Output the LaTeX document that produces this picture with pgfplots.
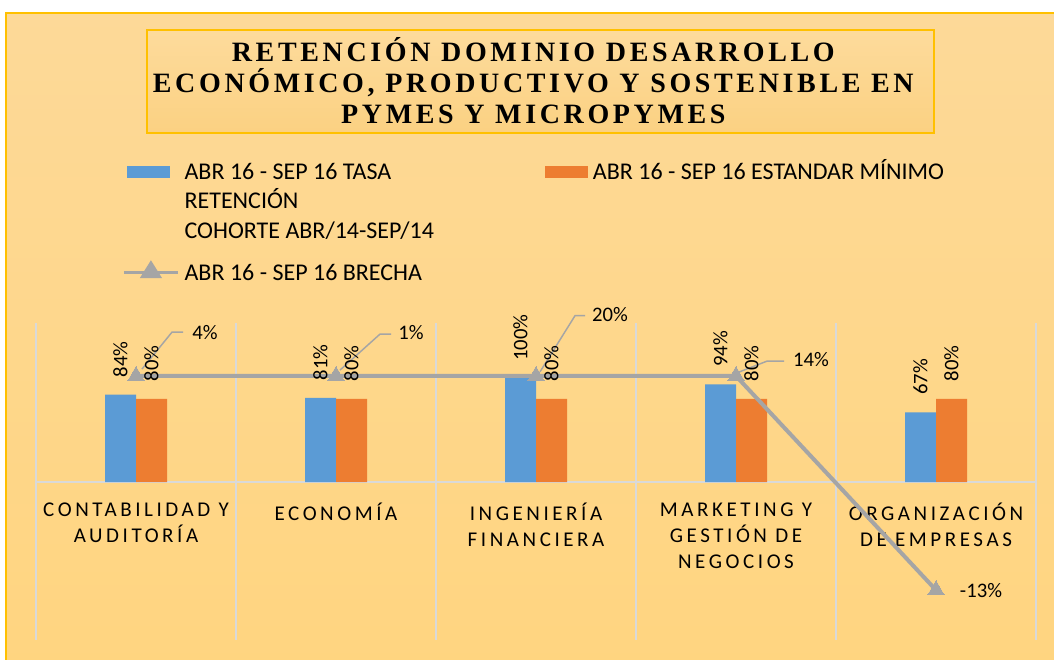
\documentclass[border=0pt]{standalone}
\usepackage{pgfplots}
\pgfplotsset{compat=1.18}
\usepackage{fontspec}
\setmainfont{Carlito}
\newfontfamily\titlefont[LetterSpace=13]{Liberation Serif}
\newfontfamily\catfont[LetterSpace=17]{Carlito}
\definecolor{cblue}{HTML}{5B9BD5}
\definecolor{corange}{HTML}{ED7D31}
\definecolor{cgray}{HTML}{A5A5A5}
\definecolor{cgrid}{HTML}{D9D9D9}
\definecolor{gold}{HTML}{FFC000}
\definecolor{bgtop}{HTML}{FDD998}
\definecolor{bgbot}{HTML}{FFD580}
\definecolor{ttop}{HTML}{FDDB9C}
\definecolor{tbot}{HTML}{FBD182}
\begin{document}
\begin{tikzpicture}
\path[use as bounding box, fill=white] (0,0) rectangle (790.5pt,495pt);
\shade[top color=bgtop, bottom color=bgbot] (4.5pt,-5pt) rectangle (800pt,485.25pt);
\draw[gold, line width=1.5pt] (4.5pt,-5pt) -- (4.5pt,485.25pt) -- (800pt,485.25pt);
\shade[top color=ttop, bottom color=tbot] (110.25pt,395.25pt) rectangle (700.5pt,472.5pt);
\draw[gold, line width=1.2pt] (110.25pt,395.25pt) rectangle (700.5pt,472.5pt);
\node[align=center, font=\titlefont\bfseries\fontsize{21}{23.25}\selectfont] at (400pt,434.25pt)
  {RETENCIÓN DOMINIO DESARROLLO\\ECONÓMICO, PRODUCTIVO Y SOSTENIBLE EN\\PYMES Y MICROPYMES};
\begin{axis}[
  at={(27pt,15pt)}, anchor=south west,
  scale only axis, width=750pt, height=237.75pt,
  xmin=-0.5, xmax=4.5, ymin=-152, ymax=153,
  ybar=0pt, bar width=0.155,
  axis x line*=middle, axis y line=none,
  x axis line style={cgrid, line width=1.5pt},
  xtick={0,1,2,3,4},
  xticklabels={{CONTABILIDAD Y\\AUDITORÍA},{ECONOMÍA},{INGENIERÍA\\FINANCIERA},{MARKETING Y\\GESTIÓN DE\\NEGOCIOS},{ORGANIZACIÓN\\DE EMPRESAS}},
  minor xtick={-0.5,0.5,1.5,2.5,3.5,4.5},
  xminorgrids=true, xmajorgrids=false,
  minor x grid style={cgrid, line width=1.5pt},
  major tick length=0pt, minor tick length=0pt,
  ytick=\empty,
  xticklabel style={align=center, font=\catfont\fontsize{15.75}{19.5}\selectfont, text=black, yshift=-12.25pt},
  clip=false,
  legend columns=2,
  legend cell align=left,
  legend style={at={(axis description cs:0.082,1.517)}, anchor=north west, draw=none, fill=none,
    font=\fontsize{18}{21}\selectfont,
    nodes={text height=13pt, text depth=4pt, inner ysep=0pt, inner xsep=3.75pt},
    cells={anchor=base west},
    /tikz/every even column/.append style={column sep=79.5pt}, row sep=5pt},
]
\addplot[fill=cblue, draw=none,
  point meta=y, nodes near coords={\pgfmathprintnumber[assume math mode=true]{\pgfplotspointmeta}\%},
  every node near coord/.append style={rotate=90, anchor=west, inner xsep=13pt, font=\fontsize{15.5}{18}\selectfont, text=black},
  legend image code/.code={\fill[cblue] (0pt,1.3pt) rectangle (32.25pt,10.3pt);}]
  coordinates {(0,84) (1,81) (2,100) (3,94) (4,67)};
\addlegendentry{ABR 16 - SEP 16 TASA}
\addplot[fill=corange, draw=none,
  point meta=y, nodes near coords={\pgfmathprintnumber[assume math mode=true]{\pgfplotspointmeta}\%},
  every node near coord/.append style={rotate=90, anchor=west, inner xsep=13pt, font=\fontsize{15.5}{18}\selectfont, text=black},
  legend image code/.code={\fill[corange] (0pt,1.3pt) rectangle (32.25pt,10.3pt);}]
  coordinates {(0,80) (1,80) (2,80) (3,80) (4,80)};
\addlegendentry{ABR 16 - SEP 16 ESTANDAR MÍNIMO}
\addlegendimage{empty legend}
\addlegendentry{RETENCIÓN}
\addlegendimage{empty legend}
\addlegendentry{}
\addlegendimage{empty legend}
\addlegendentry{COHORTE ABR/14-SEP/14}
\addlegendimage{empty legend}
\addlegendentry{}
\addplot[sharp plot, cgray, line width=3pt, mark=triangle*, mark size=7pt,
  mark options={fill=cgray, draw=cgray, line width=0pt},
  point meta=explicit symbolic, nodes near coords={\pgfplotspointmeta\%},
  visualization depends on={value \thisrow{dx}\as\ldx},
  visualization depends on={value \thisrow{dy}\as\ldy},
  every node near coord/.append style={anchor=center, xshift=\ldx, yshift=\ldy, font=\fontsize{15.5}{18}\selectfont, text=black},
  legend image code/.code={\draw[cgray, line width=2.5pt] (-2.25pt,5.8pt) -- (38.25pt,5.8pt);
     \fill[cgray] (18pt,12pt) -- (23.6pt,3pt) -- (12.4pt,3pt) -- cycle;}]
  table[x=x, y=y, meta=lab] {
x y lab dx dy
0 102 4 51.75pt 32.25pt
1 102 1 56.25pt 32.25pt
2 102 20 55.5pt 45.75pt
3 102 14 56.25pt 12pt
4 -104 -13 33.75pt 0pt
};
\addlegendentry[text height=22.5pt]{ABR 16 - SEP 16 BRECHA}
\addplot[sharp plot, cgray, line width=1.1pt, no marks, unbounded coords=jump, forget plot]
  coordinates {(0.03,108.7) (0.18,144.2) (0.235,144.2) (nan,nan)
  (1.02,107.7) (1.22,142.3) (1.275,142.3) (nan,nan)
  (2.02,106) (2.195,160) (2.245,160) (nan,nan)
  (3.015,105.8) (3.155,116.3) (3.24,116.3)};
\end{axis}
\end{tikzpicture}
\end{document}
